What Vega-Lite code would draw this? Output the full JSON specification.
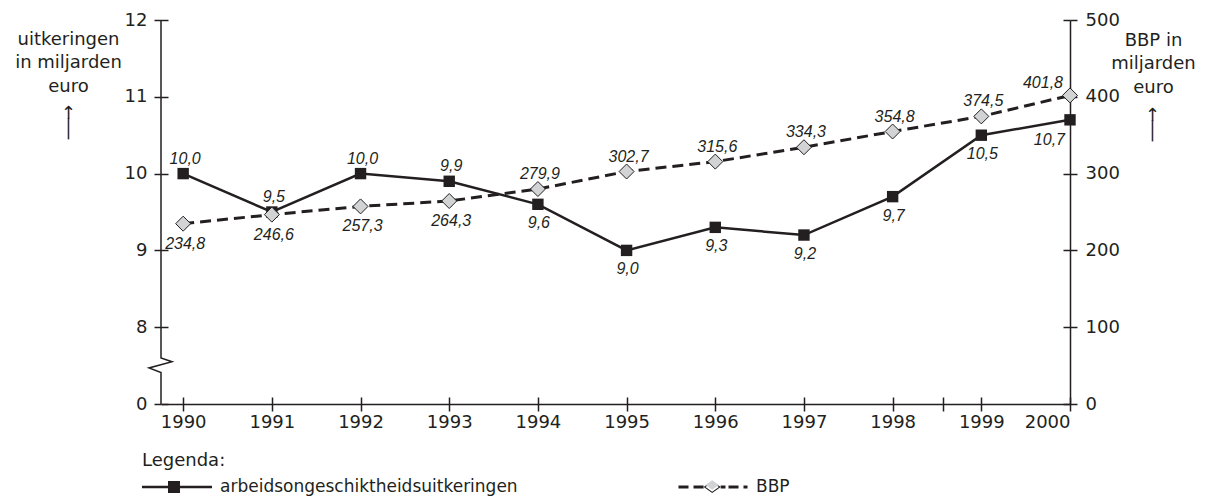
{
  "$schema": "https://vega.github.io/schema/vega-lite/v6.json",
  "width": 909,
  "height": 384,
  "autosize": "none",
  "padding": {"left": 161, "top": 20, "right": 139, "bottom": 92},
  "background": "white",
  "config": {
    "view": {"stroke": null},
    "locale": {"number": {"decimal": ",", "thousands": ".", "grouping": [3], "currency": ["€ ", ""]}},
    "axis": {
      "labelFont": "DejaVu Sans", "labelFontSize": 18, "labelColor": "#231f20",
      "titleFont": "DejaVu Sans", "titleFontSize": 18, "titleFontWeight": "normal", "titleColor": "#231f20",
      "domainColor": "#231f20", "domainWidth": 1.5, "tickColor": "#231f20", "tickWidth": 1.5, "grid": false
    },
    "text": {"font": "Liberation Sans", "fontStyle": "italic", "fontSize": 16, "color": "#231f20", "baseline": "alphabetic"},
    "legend": {
      "orient": "none", "direction": "horizontal",
      "titleFont": "DejaVu Sans", "titleFontSize": 18, "titleFontWeight": "normal", "titleColor": "#231f20",
      "labelFont": "DejaVu Sans", "labelFontSize": 17, "labelColor": "#231f20", "labelOffset": 8, "labelLimit": 1000,
      "symbolSize": 4900, "symbolStrokeWidth": 0, "padding": 0
    }
  },
  "datasets": {
    "main": [
      {"year": 1990, "uitk": 10.0, "bbp": 234.8},
      {"year": 1991, "uitk": 9.5, "bbp": 246.6},
      {"year": 1992, "uitk": 10.0, "bbp": 257.3},
      {"year": 1993, "uitk": 9.9, "bbp": 264.3},
      {"year": 1994, "uitk": 9.6, "bbp": 279.9},
      {"year": 1995, "uitk": 9.0, "bbp": 302.7},
      {"year": 1996, "uitk": 9.3, "bbp": 315.6},
      {"year": 1997, "uitk": 9.2, "bbp": 334.3},
      {"year": 1998, "uitk": 9.7, "bbp": 354.8},
      {"year": 1999, "uitk": 10.5, "bbp": 374.5},
      {"year": 2000, "uitk": 10.7, "bbp": 401.8}
    ],
    "axisline": [
      {"i": 0, "ax": 1989.75, "ay": 12},
      {"i": 1, "ax": 1989.75, "ay": 7.6},
      {"i": 2, "ax": 1989.874, "ay": 7.55},
      {"i": 3, "ax": 1989.615, "ay": 7.47},
      {"i": 4, "ax": 1989.75, "ay": 7.41},
      {"i": 5, "ax": 1989.75, "ay": 7}
    ],
    "legend": [
      {"series": "arbeidsongeschiktheidsuitkeringen", "mk": "BBP-ruit"},
      {"series": "BBP", "mk": "BBP-ruit"}
    ]
  },
  "data": {"name": "main"},
  "layer": [
    {
      "data": {"name": "axisline"},
      "mark": {"type": "line", "color": "#231f20", "strokeWidth": 1.5},
      "encoding": {
        "x": {"field": "ax", "type": "quantitative", "scale": {"domain": [1989.75, 2000], "nice": false, "zero": false}, "axis": null},
        "y": {"field": "ay", "type": "quantitative", "scale": {"domain": [7, 12], "nice": false, "zero": false}, "axis": null},
        "order": {"field": "i"}
      }
    },
    {
      "mark": {"type": "line", "color": "#231f20", "strokeWidth": 2.5},
      "encoding": {
        "x": {"field": "year", "type": "quantitative", "scale": {"domain": [1989.75, 2000], "nice": false, "zero": false},
          "axis": {"orient": "bottom", "values": [1990, 1991, 1992, 1993, 1994, 1995, 1996, 1997, 1998, 1998.57, 1999, 2000],
            "labelExpr": "datum.value % 1 ? '' : datum.value", "tickSize": 7, "labelPadding": 2, "title": null, "domain": true}},
        "y": {"field": "uitk", "type": "quantitative", "scale": {"domain": [7, 12], "nice": false, "zero": false},
          "axis": {"orient": "left", "values": [7, 8, 9, 10, 11, 12], "labelExpr": "datum.value == 7 ? '0' : datum.value",
            "tickSize": 7, "labelPadding": 7, "domain": false,
            "title": ["uitkeringen", "in miljarden", "euro"], "titleAngle": 0, "titleAlign": "center", "titleBaseline": "alphabetic",
            "titleX": -93, "titleY": 24, "titleLineHeight": 23.5}}
      }
    },
    {
      "mark": {"type": "point", "shape": "square", "filled": true, "size": 130, "color": "#231f20", "opacity": 1},
      "encoding": {
        "x": {"field": "year", "type": "quantitative", "axis": null},
        "y": {"field": "uitk", "type": "quantitative", "scale": {"domain": [7, 12], "nice": false, "zero": false}, "axis": null}
      }
    },
    {
      "transform": [{"filter": "datum.year <= 1993"}],
      "mark": {"type": "text", "dy": -10, "dx": 2},
      "encoding": {
        "x": {"field": "year", "type": "quantitative", "axis": null},
        "y": {"field": "uitk", "type": "quantitative", "scale": {"domain": [7, 12], "nice": false, "zero": false}, "axis": null},
        "text": {"field": "uitk", "type": "quantitative", "format": ".1f"}
      }
    },
    {
      "transform": [{"filter": "datum.year >= 1994 && datum.year < 2000"}],
      "mark": {"type": "text", "dy": 24, "dx": 1},
      "encoding": {
        "x": {"field": "year", "type": "quantitative", "axis": null},
        "y": {"field": "uitk", "type": "quantitative", "scale": {"domain": [7, 12], "nice": false, "zero": false}, "axis": null},
        "text": {"field": "uitk", "type": "quantitative", "format": ".1f"}
      }
    },
    {
      "transform": [{"filter": "datum.year == 2000"}],
      "mark": {"type": "text", "align": "right", "dy": 25, "dx": -5},
      "encoding": {
        "x": {"field": "year", "type": "quantitative", "axis": null},
        "y": {"field": "uitk", "type": "quantitative", "scale": {"domain": [7, 12], "nice": false, "zero": false}, "axis": null},
        "text": {"field": "uitk", "type": "quantitative", "format": ".1f"}
      }
    },
    {
      "mark": {"type": "line", "color": "#231f20", "strokeWidth": 3, "strokeDash": [11, 6]},
      "encoding": {
        "x": {"field": "year", "type": "quantitative", "axis": null},
        "y": {"field": "bbp", "type": "quantitative", "scale": {"domain": [0, 500], "nice": false},
          "axis": {"orient": "right", "values": [0, 100, 200, 300, 400, 500], "tickSize": 7, "labelPadding": 8, "domain": true,
            "title": ["BBP in", "miljarden", "euro"], "titleAngle": 0, "titleAlign": "center", "titleBaseline": "alphabetic",
            "titleX": 83, "titleY": 25, "titleLineHeight": 23.5}}
      }
    },
    {
      "mark": {"type": "point", "shape": "diamond", "filled": true, "size": 225, "fill": "#d1d3d4", "stroke": "#231f20", "strokeWidth": 1, "opacity": 1},
      "encoding": {
        "x": {"field": "year", "type": "quantitative", "axis": null},
        "y": {"field": "bbp", "type": "quantitative", "scale": {"domain": [0, 500], "nice": false}, "axis": null}
      }
    },
    {
      "transform": [{"filter": "datum.year <= 1993"}],
      "mark": {"type": "text", "dy": 25, "dx": 2},
      "encoding": {
        "x": {"field": "year", "type": "quantitative", "axis": null},
        "y": {"field": "bbp", "type": "quantitative", "scale": {"domain": [0, 500], "nice": false}, "axis": null},
        "text": {"field": "bbp", "type": "quantitative", "format": ".1f"}
      }
    },
    {
      "transform": [{"filter": "datum.year >= 1994 && datum.year < 2000"}],
      "mark": {"type": "text", "dy": -10, "dx": 2},
      "encoding": {
        "x": {"field": "year", "type": "quantitative", "axis": null},
        "y": {"field": "bbp", "type": "quantitative", "scale": {"domain": [0, 500], "nice": false}, "axis": null},
        "text": {"field": "bbp", "type": "quantitative", "format": ".1f"}
      }
    },
    {
      "transform": [{"filter": "datum.year == 2000"}],
      "mark": {"type": "text", "align": "right", "dy": -7, "dx": -7},
      "encoding": {
        "x": {"field": "year", "type": "quantitative", "axis": null},
        "y": {"field": "bbp", "type": "quantitative", "scale": {"domain": [0, 500], "nice": false}, "axis": null},
        "text": {"field": "bbp", "type": "quantitative", "format": ".1f"}
      }
    },
    {
      "mark": {"type": "point", "opacity": 0},
      "encoding": {
        "x": {"field": "year", "type": "quantitative",
          "axis": {"orient": "bottom", "values": [1990, 1991, 1992, 1993, 1994, 1995, 1996, 1997, 1998, 1998.57, 1999, 2000],
            "tickSize": -7, "labels": false, "domain": false, "title": null}},
        "y": {"field": "uitk", "type": "quantitative", "scale": {"domain": [7, 12], "nice": false, "zero": false},
          "axis": {"orient": "left", "values": [7, 8, 9, 10, 11, 12], "tickSize": -7, "labels": false, "domain": false,
            "title": ["↑", "│"], "titleAngle": 0, "titleAlign": "center", "titleBaseline": "alphabetic",
            "titleX": -93, "titleY": 98, "titleLineHeight": 16}}
      }
    },
    {
      "mark": {"type": "point", "opacity": 0},
      "encoding": {
        "x": {"field": "year", "type": "quantitative", "axis": null},
        "y": {"field": "bbp", "type": "quantitative", "scale": {"domain": [0, 500], "nice": false},
          "axis": {"orient": "right", "values": [0, 100, 200, 300, 400, 500], "tickSize": -7, "labels": false, "domain": false,
            "title": ["↑", "│"], "titleAngle": 0, "titleAlign": "center", "titleBaseline": "alphabetic",
            "titleX": 82, "titleY": 100, "titleLineHeight": 16}}
      }
    },
    {
      "data": {"name": "legend"},
      "transform": [{"filter": "false"}],
      "mark": {"type": "point", "filled": true, "fill": "#231f20", "strokeWidth": 0, "opacity": 1},
      "encoding": {
        "shape": {"field": "series", "type": "nominal",
          "scale": {"domain": ["arbeidsongeschiktheidsuitkeringen", "BBP"],
            "range": [
              "M-1,-0.034H1V0.034H-1ZM-0.257,-0.171H0.085V0.171H-0.257Z",
              "M-0.986,-0.043H-0.7V0.043H-0.986ZM-0.557,-0.043H-0.27V0.043H-0.557ZM0.22,-0.043H0.357V0.043H0.22ZM0.443,-0.043H0.729V0.043H0.443ZM0.871,-0.043H0.986V0.043H0.871ZM-0.023,-0.17L0.22,0L-0.023,0.17L-0.266,0ZM-0.023,-0.133L-0.214,0L-0.023,0.133L0.168,0Z"
            ]},
          "legend": {"title": "Legenda:", "legendX": -19, "legendY": 432, "columns": 2, "columnPadding": 160, "titlePadding": -18}}
      }
    },
    {
      "data": {"name": "legend"},
      "transform": [{"filter": "false"}],
      "mark": {"type": "point", "filled": true, "strokeWidth": 0, "opacity": 1},
      "encoding": {
        "fill": {"field": "mk", "type": "nominal",
          "scale": {"domain": ["BBP-ruit"], "range": ["#d1d3d4"]},
          "legend": {"title": null, "legendX": 517, "legendY": 430, "labelExpr": "''", "labelOffset": 0,
            "symbolType": "M-0.023,-0.133L0.168,0L-0.023,0.133L-0.214,0Z"}}
      }
    }
  ],
  "resolve": {"scale": {"y": "independent"}, "axis": {"x": "independent", "y": "independent"}}
}
